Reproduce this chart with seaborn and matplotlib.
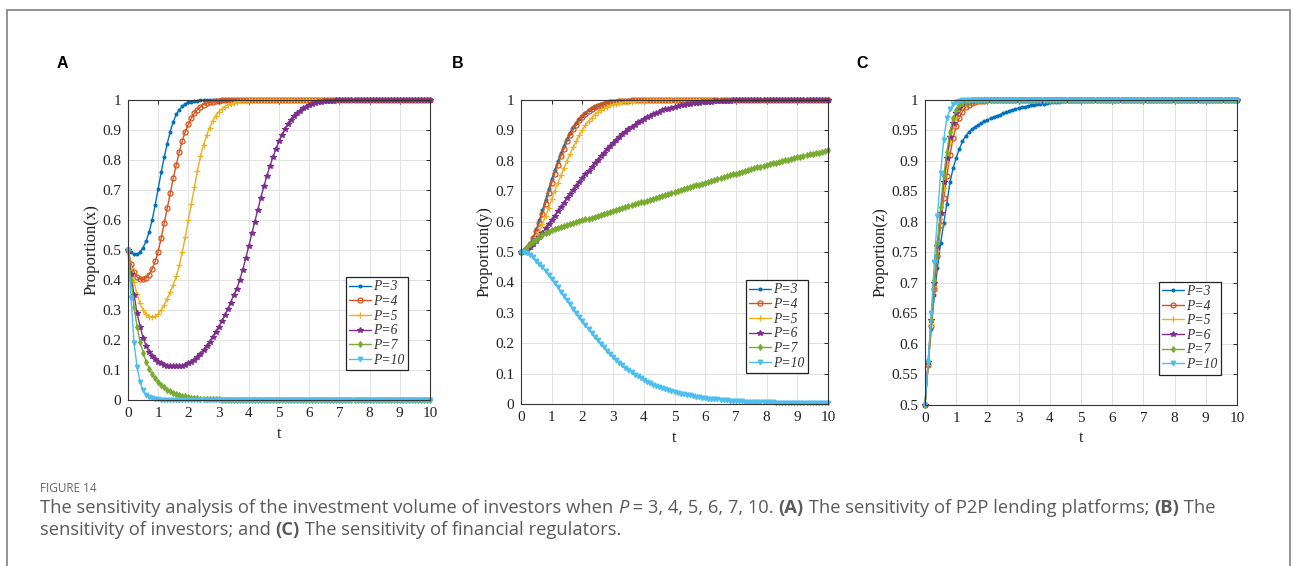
import numpy as np
import pandas as pd
import matplotlib
matplotlib.use("Agg")
import matplotlib.pyplot as plt
import seaborn as sns
from matplotlib.patches import Rectangle
from matplotlib.ticker import FuncFormatter

# ---------------------------------------------------------------- data
t = np.round(np.linspace(0, 10, 101), 1)
ONE = [1.0] * 10
ZERO = [0.0] * 10

p_labels = ["P=3", "P=4", "P=5", "P=6", "P=7", "P=10"]

# (A) proportion x of P2P lending platforms
x_p3 = [0.500,
        0.493, 0.487, 0.486, 0.493, 0.508, 0.530, 0.560, 0.600, 0.650, 0.705,
        0.760, 0.810, 0.855, 0.895, 0.928, 0.952, 0.968, 0.979, 0.987, 0.992,
        0.995, 0.997, 0.998, 0.999, 1.0, 1.0, 1.0, 1.0, 1.0, 1.0] + ONE * 7
x_p4 = [0.500,
        0.455, 0.427, 0.410, 0.403, 0.402, 0.407, 0.418, 0.437, 0.462, 0.495,
        0.540, 0.590, 0.640, 0.690, 0.740, 0.785, 0.828, 0.865, 0.895, 0.920,
        0.940, 0.956, 0.968, 0.977, 0.984, 0.989, 0.992, 0.995, 0.997, 0.998,
        0.999, 0.999, 1.0, 1.0, 1.0, 1.0, 1.0, 1.0, 1.0, 1.0] + ONE * 6
x_p5 = [0.500,
        0.440, 0.392, 0.352, 0.322, 0.300, 0.286, 0.278, 0.276, 0.279, 0.287,
        0.300, 0.318, 0.338, 0.360, 0.385, 0.412, 0.450, 0.495, 0.545, 0.600,
        0.655, 0.710, 0.765, 0.812, 0.850, 0.882, 0.908, 0.930, 0.947, 0.960,
        0.970, 0.978, 0.984, 0.988, 0.991, 0.994, 0.996, 0.997, 0.998, 0.999] + ONE * 6
x_p6 = [0.500,
        0.420, 0.350, 0.290, 0.245, 0.208, 0.180, 0.160, 0.146, 0.136, 0.128,
        0.122, 0.118, 0.115, 0.113, 0.112, 0.112, 0.113, 0.115, 0.118, 0.122,
        0.128, 0.135, 0.144, 0.155, 0.167, 0.180, 0.195, 0.210, 0.227, 0.245,
        0.262, 0.282, 0.302, 0.325, 0.350, 0.370, 0.400, 0.435, 0.473, 0.513,
        0.555, 0.595, 0.635, 0.675, 0.712, 0.748, 0.780, 0.810, 0.838, 0.862,
        0.884, 0.903, 0.920, 0.934, 0.946, 0.956, 0.965, 0.972, 0.978, 0.983,
        0.987, 0.990, 0.992, 0.994, 0.996, 0.997, 0.998, 0.998, 0.999, 0.999] + ONE * 3
x_p7 = [0.500,
        0.400, 0.310, 0.245, 0.195, 0.158, 0.128, 0.105, 0.087, 0.072, 0.060,
        0.050, 0.042, 0.035, 0.029, 0.024, 0.020, 0.017, 0.014, 0.012, 0.010,
        0.008, 0.007, 0.006, 0.005, 0.004, 0.003, 0.003, 0.002, 0.002, 0.002,
        0.001, 0.001, 0.001, 0.001, 0.001, 0.001, 0.001, 0.001, 0.001, 0.001] + ZERO * 6
x_p10 = [0.500,
         0.340, 0.190, 0.110, 0.060, 0.033, 0.018, 0.010, 0.006, 0.003, 0.002,
         0.001, 0.001, 0.0, 0.0, 0.0, 0.0, 0.0, 0.0, 0.0, 0.0] + ZERO * 8

# (B) proportion y of investors
y_p3 = [0.500,
        0.505, 0.515, 0.530, 0.550, 0.575, 0.605, 0.638, 0.672, 0.707, 0.740,
        0.770, 0.798, 0.825, 0.850, 0.873, 0.893, 0.910, 0.925, 0.938, 0.949,
        0.958, 0.966, 0.973, 0.978, 0.983, 0.987, 0.990, 0.992, 0.994, 0.995,
        0.996, 0.997, 0.998, 0.998, 0.999, 0.999, 0.999, 1.0, 1.0, 1.0] + ONE * 6
y_p4 = [0.500,
        0.504, 0.512, 0.526, 0.545, 0.568, 0.595, 0.626, 0.659, 0.693, 0.727,
        0.758, 0.787, 0.815, 0.840, 0.864, 0.885, 0.903, 0.919, 0.933, 0.945,
        0.955, 0.963, 0.970, 0.976, 0.981, 0.985, 0.988, 0.991, 0.993, 0.994,
        0.995, 0.996, 0.997, 0.998, 0.998, 0.999, 0.999, 0.999, 1.0, 1.0] + ONE * 6
y_p5 = [0.500,
        0.503, 0.509, 0.518, 0.531, 0.548, 0.568, 0.592, 0.618, 0.645, 0.673,
        0.702, 0.727, 0.752, 0.776, 0.800, 0.823, 0.844, 0.864, 0.885, 0.902,
        0.917, 0.930, 0.942, 0.952, 0.960, 0.967, 0.973, 0.978, 0.982, 0.986,
        0.988, 0.990, 0.992, 0.993, 0.994, 0.995, 0.996, 0.997, 0.998, 0.998,
        0.999, 0.999, 0.999, 1.0, 1.0, 1.0, 1.0, 1.0, 1.0, 1.0] + ONE * 5
y_p6 = [0.500,
        0.503, 0.508, 0.515, 0.525, 0.537, 0.550, 0.564, 0.578, 0.592, 0.606,
        0.620, 0.634, 0.648, 0.662, 0.676, 0.690, 0.703, 0.716, 0.729, 0.742,
        0.755, 0.768, 0.780, 0.792, 0.804, 0.816, 0.827, 0.838, 0.849, 0.859,
        0.869, 0.878, 0.887, 0.896, 0.904, 0.912, 0.919, 0.926, 0.932, 0.938,
        0.944, 0.949, 0.954, 0.958, 0.962, 0.966, 0.969, 0.972, 0.975, 0.978,
        0.980, 0.982, 0.984, 0.986, 0.988, 0.989, 0.990, 0.991, 0.992, 0.993,
        0.994, 0.995, 0.996, 0.996, 0.997, 0.997, 0.998, 0.998, 0.999, 0.999] + ONE * 3
y_p7 = [0.500,
        0.508, 0.517, 0.526, 0.534, 0.541, 0.548, 0.555, 0.561, 0.567, 0.573,
        0.577, 0.580, 0.583, 0.586, 0.589, 0.592, 0.595, 0.598, 0.601, 0.604,
        0.607, 0.610, 0.613, 0.616, 0.619, 0.622, 0.625, 0.628, 0.631, 0.635,
        0.638, 0.641, 0.644, 0.647, 0.650, 0.653, 0.657, 0.660, 0.663, 0.666,
        0.669, 0.672, 0.675, 0.678, 0.682, 0.685, 0.688, 0.691, 0.694, 0.697,
        0.700, 0.703, 0.706, 0.710, 0.713, 0.716, 0.719, 0.722, 0.725, 0.728,
        0.731, 0.734, 0.737, 0.740, 0.743, 0.746, 0.749, 0.752, 0.755, 0.758,
        0.761, 0.764, 0.767, 0.769, 0.772, 0.775, 0.778, 0.781, 0.784, 0.787,
        0.789, 0.792, 0.794, 0.797, 0.799, 0.802, 0.804, 0.807, 0.809, 0.812,
        0.814, 0.816, 0.818, 0.821, 0.823, 0.825, 0.827, 0.829, 0.831, 0.834]
y_p10 = [0.500,
         0.499, 0.496, 0.490, 0.482, 0.472, 0.461, 0.450, 0.438, 0.425, 0.412,
         0.398, 0.384, 0.370, 0.356, 0.342, 0.328, 0.314, 0.300, 0.286, 0.273,
         0.259, 0.246, 0.233, 0.221, 0.209, 0.197, 0.186, 0.175, 0.164, 0.154,
         0.145, 0.136, 0.127, 0.119, 0.111, 0.104, 0.097, 0.091, 0.085, 0.079,
         0.074, 0.069, 0.064, 0.060, 0.056, 0.052, 0.048, 0.045, 0.042, 0.039,
         0.036, 0.034, 0.032, 0.030, 0.028, 0.026, 0.024, 0.022, 0.021, 0.020,
         0.018, 0.017, 0.016, 0.015, 0.014, 0.013, 0.012, 0.011, 0.011, 0.010,
         0.009, 0.009, 0.008, 0.008, 0.007, 0.007, 0.006, 0.006, 0.006, 0.005,
         0.005, 0.005, 0.004, 0.004, 0.004, 0.004, 0.003, 0.003, 0.003, 0.003,
         0.003, 0.003, 0.002, 0.002, 0.002, 0.002, 0.002, 0.002, 0.002, 0.002]

# (C) proportion z of financial regulators
z_p3 = [0.500,
        0.565, 0.625, 0.680, 0.725, 0.765, 0.798, 0.830, 0.865, 0.888, 0.905,
        0.920, 0.932, 0.941, 0.947, 0.952, 0.956, 0.959, 0.962, 0.965, 0.967,
        0.970, 0.972, 0.974, 0.976, 0.978, 0.980, 0.982, 0.984, 0.985, 0.987,
        0.988, 0.989, 0.990, 0.991, 0.992, 0.993, 0.994, 0.994, 0.995, 0.996,
        0.996, 0.997, 0.997, 0.998, 0.998, 0.998, 0.999, 0.999, 0.999, 0.999] + ONE * 5
z_p4 = [0.500,
        0.565, 0.630, 0.690, 0.745, 0.795, 0.840, 0.875, 0.910, 0.938, 0.957,
        0.971, 0.981, 0.988, 0.992, 0.995, 0.997, 0.998, 0.999, 0.999, 1.0] + ONE * 8
z_p5 = [0.500,
        0.565, 0.632, 0.695, 0.752, 0.805, 0.855, 0.895, 0.930, 0.955, 0.972,
        0.983, 0.990, 0.994, 0.996, 0.998, 0.999, 0.999, 1.0, 1.0, 1.0] + ONE * 8
z_p6 = [0.500,
        0.570, 0.640, 0.700, 0.760, 0.815, 0.865, 0.905, 0.940, 0.963, 0.978,
        0.987, 0.993, 0.996, 0.998, 0.999, 1.0, 1.0, 1.0, 1.0, 1.0] + ONE * 8
z_p7 = [0.500,
        0.570, 0.640, 0.705, 0.765, 0.825, 0.875, 0.915, 0.948, 0.970, 0.983,
        0.991, 0.995, 0.997, 0.999, 1.0, 1.0, 1.0, 1.0, 1.0, 1.0] + ONE * 8
z_p10 = [0.500,
         0.570, 0.650, 0.735, 0.810, 0.880, 0.935, 0.970, 0.985, 0.993, 0.997,
         0.999, 1.0, 1.0, 1.0, 1.0, 1.0, 1.0, 1.0, 1.0, 1.0] + ONE * 8

panels = [
    ("A", "Proportion(x)", [x_p3, x_p4, x_p5, x_p6, x_p7, x_p10], (0, 1), 0.1),
    ("B", "Proportion(y)", [y_p3, y_p4, y_p5, y_p6, y_p7, y_p10], (0, 1), 0.1),
    ("C", "Proportion(z)", [z_p3, z_p4, z_p5, z_p6, z_p7, z_p10], (0.5, 1), 0.05),
]

# ---------------------------------------------------------------- style
colors = ["#0072BD", "#D95319", "#EDB120", "#7E2F8E", "#77AC30", "#4DBEEE"]
markers = [".", "o", "+", "*", "d", "v"]
msizes = [4.0, 3.6, 4.0, 4.0, 3.0, 3.3]

sns.set_theme(style="white")
plt.rcParams["font.family"] = ["DejaVu Sans"]
SERIF = "Liberation Serif"

W, H = 1293, 566
fig = plt.figure(figsize=(W / 100, H / 100), dpi=100)
fig.patch.set_facecolor("white")

# axes boxes in pixels: left, right, top, bottom
boxes = [(128, 430, 100, 400), (521, 828, 100, 404), (925, 1237, 100, 405)]
legend_anchor = [(0.927, 0.10), (0.935, 0.102), (0.949, 0.10)]
letter_x = [57, 452, 856]


def fmt(v, _):
    return f"{v:g}"


for (letter, ylab, series, ylim, ystep), (l, r, tp, b), anc, lx in zip(
        panels, boxes, legend_anchor, letter_x):
    ax = fig.add_axes([l / W, 1 - b / H, (r - l) / W, (b - tp) / H])
    for vals, lab, c, m, ms in zip(series, p_labels, colors, markers, msizes):
        df = pd.DataFrame({"t": t, "v": vals})
        kw = dict(markerfacecolor="none") if m == "o" else {}
        sns.lineplot(data=df, x="t", y="v", ax=ax, color=c, marker=m,
                     markersize=ms, markeredgewidth=0.9, markeredgecolor=c,
                     linewidth=1.0, label=lab, clip_on=False, **kw)
    ax.set_xlim(0, 10)
    ax.set_ylim(*ylim)
    ax.set_xticks(np.arange(0, 11, 1))
    ax.set_yticks(np.round(np.arange(ylim[0], ylim[1] + 1e-9, ystep), 2))
    ax.xaxis.set_major_formatter(FuncFormatter(fmt))
    ax.yaxis.set_major_formatter(FuncFormatter(fmt))
    ax.grid(True, color="#e3e3e3", linewidth=0.7)
    ax.set_axisbelow(True)
    for s in ax.spines.values():
        s.set_color("#333333")
        s.set_linewidth(0.8)
    ax.tick_params(direction="in", length=3, width=0.7, top=True, right=True,
                   colors="#222222", labelsize=11, pad=5)
    for lbl in ax.get_xticklabels() + ax.get_yticklabels():
        lbl.set_fontfamily(SERIF)
    ax.set_xlabel("t", fontfamily=SERIF, fontsize=11.5, labelpad=4, color="#222222")
    ax.set_ylabel(ylab, fontfamily=SERIF, fontsize=12, labelpad=2, color="#222222")
    leg = ax.legend(loc="lower right", bbox_to_anchor=anc, fancybox=False,
                    framealpha=1, edgecolor="#222222", numpoints=1,
                    handlelength=1.6, handletextpad=0.15, borderpad=0.25,
                    labelspacing=0.12, borderaxespad=0,
                    prop={"family": SERIF, "style": "italic", "size": 9.8})
    leg.get_frame().set_linewidth(0.9)
    for txt in leg.get_texts():
        txt.set_color("#333333")
    fig.text(lx / W, 1 - 68 / H, letter, fontsize=11.5, fontweight="bold",
             family="Liberation Sans", color="black", ha="left", va="baseline")

# outer frame around the figure panel
fig.add_artist(Rectangle((7 / W, -0.02), (1290 - 7) / W, 1 - 10 / H + 0.02,
                         transform=fig.transFigure, fill=False,
                         edgecolor="#8a8a8a", linewidth=1.3))

# ---------------------------------------------------------------- caption
CAP = "Open Sans"
CAP_COLOR = "#5a5a5a"
fig.text(40 / W, 1 - 488 / H, "FIGURE 14", fontsize=8.5, family=CAP,
         color="#666666", va="center", ha="left")

line1 = [("The sensitivity analysis of the investment volume of investors when ", {}),
         ("P", {"style": "italic"}),
         (" = 3, 4, 5, 6, 7, 10. ", {}),
         ("(A)", {"weight": "bold"}),
         (" The sensitivity of P2P lending platforms; ", {}),
         ("(B)", {"weight": "bold"}),
         (" The", {})]
line2 = [("sensitivity of investors; and ", {}),
         ("(C)", {"weight": "bold"}),
         (" The sensitivity of financial regulators.", {})]

renderer = fig.canvas.get_renderer()


def draw_line(segments, x0, yc, size):
    x = x0
    arts = []
    for txt, st in segments:
        a = fig.text(x / W, 1 - yc / H, txt, fontsize=size, family=CAP,
                     color=CAP_COLOR, va="center", ha="left",
                     fontstyle=st.get("style", "normal"),
                     fontweight=st.get("weight", "normal"))
        bb = a.get_window_extent(renderer=renderer)
        x += bb.width
        arts.append(a)
    return x, arts


size = 10.6
end, arts = draw_line(line1, 40, 508, size)
scale = (1228 - 40) / (end - 40)
for a in arts:
    a.remove()
size *= scale
draw_line(line1, 40, 508, size)
draw_line(line2, 40, 530, size)

fig.savefig("out.png", dpi=100, facecolor="white")
